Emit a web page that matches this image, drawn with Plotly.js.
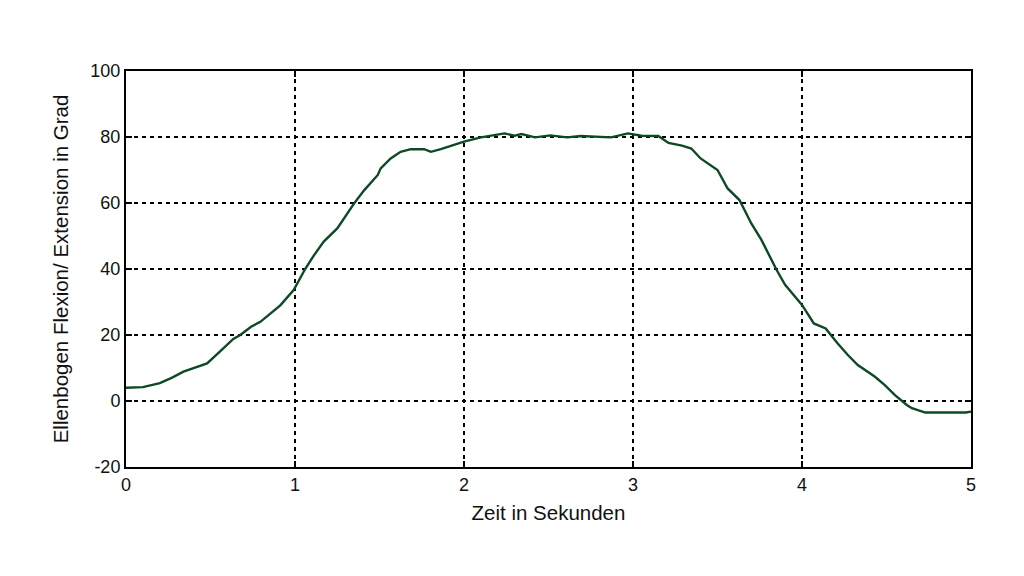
<!DOCTYPE html>
<html>
<head>
<meta charset="utf-8">
<script src="https://cdn.plot.ly/plotly-3.0.1.min.js"></script>
<style>html,body{margin:0;padding:0;background:#fff;}#chart{width:1024px;height:576px;}</style>
</head>
<body>
<div id="chart"></div>
<script>
const timeSec = [0, 0.05, 0.1, 0.2, 0.27, 0.34, 0.41, 0.48, 0.56, 0.635, 0.676, 0.74, 0.795, 0.85, 0.913, 0.992, 1.03, 1.06, 1.11, 1.17, 1.25, 1.3, 1.35, 1.41, 1.49, 1.507, 1.566, 1.625, 1.685, 1.764, 1.804, 1.863, 1.94, 2.0, 2.1, 2.24, 2.3, 2.34, 2.42, 2.51, 2.61, 2.69, 2.87, 2.97, 3.05, 3.15, 3.21, 3.29, 3.345, 3.40, 3.50, 3.56, 3.63, 3.70, 3.76, 3.85, 3.90, 4.0, 4.07, 4.14, 4.21, 4.27, 4.33, 4.43, 4.49, 4.55, 4.62, 4.65, 4.73, 4.85, 4.97, 5.0];
const angleDeg = [4, 4, 4.2, 5.4, 7, 8.9, 10.2, 11.4, 15.2, 18.8, 20, 22.5, 24, 26.3, 29, 33.6, 37, 40, 44, 48.3, 52.3, 56, 59.9, 63.9, 68.5, 70.5, 73.5, 75.5, 76.3, 76.3, 75.5, 76.3, 77.6, 78.6, 79.9, 81.1, 80.4, 80.9, 79.9, 80.5, 79.9, 80.3, 79.9, 81.1, 80.4, 80.3, 78.2, 77.4, 76.5, 73.5, 70, 64.4, 60.9, 53.8, 48.8, 39.7, 35.2, 29.1, 23.5, 22, 17.5, 14, 10.9, 7.4, 4.8, 1.8, -1.2, -2.2, -3.5, -3.5, -3.5, -3.2];
const xTicks = [0, 1, 2, 3, 4, 5];
const yTicks = [-20, 0, 20, 40, 60, 80, 100];

const trace = {
  x: timeSec, y: angleDeg, type: 'scatter', mode: 'lines',
  line: {color: '#0b4a24', width: 2.4, shape: 'linear'},
  hoverinfo: 'x+y'
};
const tickFont = {family: 'Liberation Sans, Arial, sans-serif', size: 18, color: '#111'};
const titleFont = {family: 'Liberation Sans, Arial, sans-serif', size: 20.5, color: '#111'};
const layout = {
  width: 1024, height: 576,
  margin: {l: 126, r: 53, t: 71, b: 109},
  paper_bgcolor: '#fff', plot_bgcolor: '#fff',
  showlegend: false,
  font: tickFont,
  xaxis: {
    range: [0, 5], tickvals: xTicks, ticktext: xTicks.map(String),
    showgrid: true, gridcolor: '#000', gridwidth: 2, griddash: '4px,4px',
    zeroline: false, showline: true, linecolor: '#000', linewidth: 2, mirror: 'ticks',
    ticks: 'inside', ticklen: 6, tickwidth: 2, tickcolor: '#000', tickfont: tickFont,
    title: {text: 'Zeit in Sekunden', font: titleFont, standoff: 12}
  },
  yaxis: {
    range: [-20, 100], tickvals: yTicks, ticktext: yTicks.map(String),
    showgrid: true, gridcolor: '#000', gridwidth: 2, griddash: '4px,4px',
    zeroline: false, showline: true, linecolor: '#000', linewidth: 2, mirror: 'ticks',
    ticks: 'inside', ticklen: 6, tickwidth: 2, tickcolor: '#000', tickfont: tickFont,
    title: {text: 'Ellenbogen Flexion/ Extension in Grad', font: titleFont, standoff: 16}
  }
};
Plotly.newPlot('chart', [trace], layout, {displayModeBar: false, staticPlot: true});
</script>
</body>
</html>
